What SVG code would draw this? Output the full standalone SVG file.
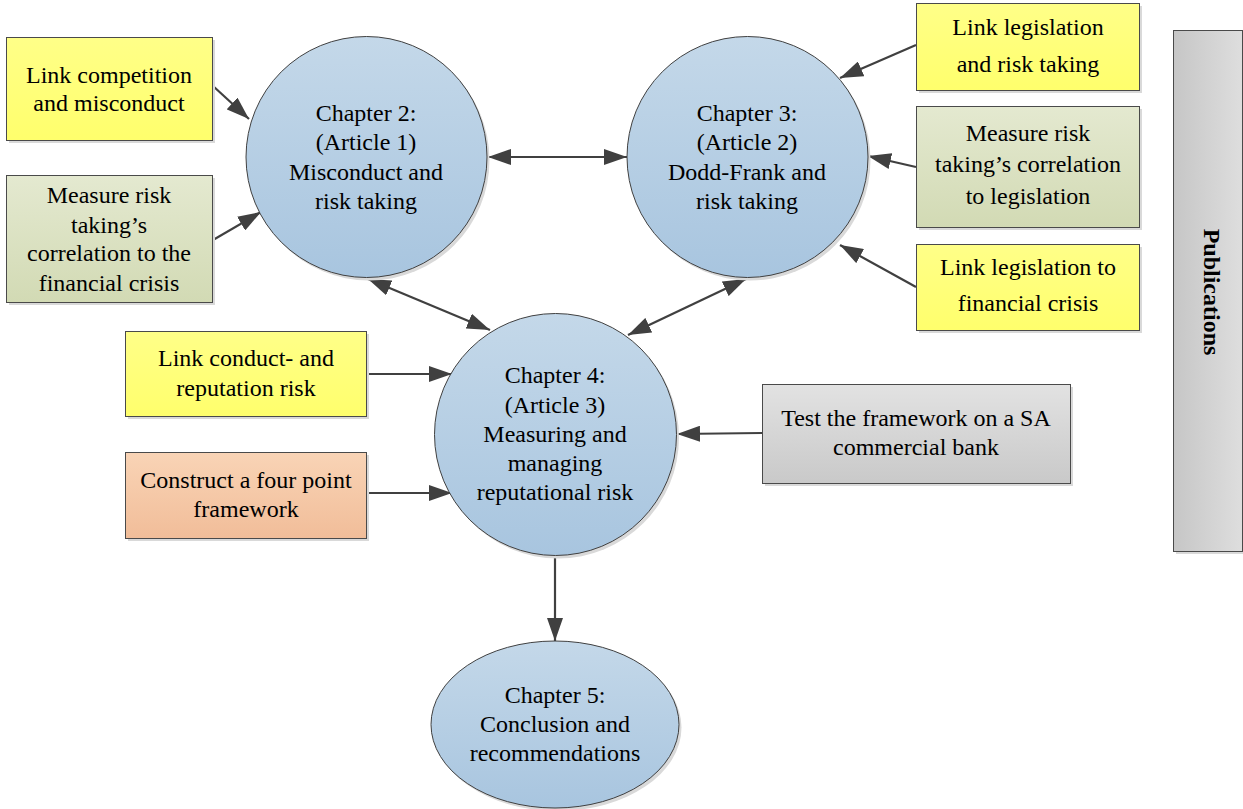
<svg xmlns="http://www.w3.org/2000/svg" width="1243" height="809" viewBox="0 0 1243 809">
<style>
text{font-family:"Liberation Serif","Times New Roman",serif;font-size:24px;fill:#000;text-anchor:middle}
.box{stroke:#4a4a4a;stroke-width:1}
.sh{fill:#d9d9d9}
.circ{fill:url(#gBlue);stroke:#404040;stroke-width:1}
.con{stroke:#404040;stroke-width:2.2;fill:none}
</style>
<defs>
<linearGradient id="gBlue" x1="0" y1="0" x2="0" y2="1"><stop offset="0" stop-color="#c4d8e9"/><stop offset="1" stop-color="#a8c5df"/></linearGradient>
<linearGradient id="gYel" x1="0" y1="0" x2="0" y2="1"><stop offset="0" stop-color="#ffff88"/><stop offset="1" stop-color="#ffff6c"/></linearGradient>
<linearGradient id="gGrn" x1="0" y1="0" x2="0" y2="1"><stop offset="0" stop-color="#e4e9d0"/><stop offset="1" stop-color="#d2dab4"/></linearGradient>
<linearGradient id="gOrg" x1="0" y1="0" x2="0" y2="1"><stop offset="0" stop-color="#f9d4b6"/><stop offset="1" stop-color="#f1bd99"/></linearGradient>
<linearGradient id="gGry" x1="0" y1="0" x2="0" y2="1"><stop offset="0" stop-color="#e2e2e2"/><stop offset="1" stop-color="#c9c9c9"/></linearGradient>
<linearGradient id="gPub" x1="0" y1="0" x2="1" y2="0"><stop offset="0" stop-color="#c6c6c6"/><stop offset="1" stop-color="#dedede"/></linearGradient>
<marker id="ah" viewBox="0 0 23 16" refX="23" refY="8" markerWidth="23" markerHeight="16" markerUnits="userSpaceOnUse" orient="auto-start-reverse"><path d="M0,0 L23,8 L0,16 Z" fill="#404040"/></marker>
</defs>

<g id="connectors">
<line class="con" x1="213" y1="86" x2="249" y2="119" marker-end="url(#ah)"/>
<line class="con" x1="213" y1="240" x2="261" y2="212" marker-end="url(#ah)"/>
<line class="con" x1="488" y1="157" x2="627" y2="157" marker-start="url(#ah)" marker-end="url(#ah)"/>
<line class="con" x1="368" y1="279" x2="490" y2="330" marker-start="url(#ah)" marker-end="url(#ah)"/>
<line class="con" x1="746" y1="279" x2="628" y2="335" marker-start="url(#ah)" marker-end="url(#ah)"/>
<line class="con" x1="916" y1="45" x2="840" y2="78" marker-end="url(#ah)"/>
<line class="con" x1="916" y1="167" x2="868" y2="156" marker-end="url(#ah)"/>
<line class="con" x1="916" y1="287" x2="840" y2="245" marker-end="url(#ah)"/>
<line class="con" x1="366" y1="374" x2="452" y2="374" marker-end="url(#ah)"/>
<line class="con" x1="366" y1="493" x2="452" y2="493" marker-end="url(#ah)"/>
<line class="con" x1="762" y1="433" x2="677" y2="434" marker-end="url(#ah)"/>
<line class="con" x1="555" y1="556" x2="555" y2="641" marker-end="url(#ah)"/>
</g>

<g id="ch2">
<circle cx="369" cy="160" r="120.5" class="sh"/>
<circle cx="366.5" cy="157" r="120.5" class="circ"/>
<text x="366" y="121">Chapter 2:</text>
<text x="366" y="150">(Article 1)</text>
<text x="366" y="180">Misconduct and</text>
<text x="366" y="209">risk taking</text>
</g>

<g id="ch3">
<circle cx="750" cy="160" r="120.5" class="sh"/>
<circle cx="747.5" cy="157" r="120.5" class="circ"/>
<text x="747" y="121">Chapter 3:</text>
<text x="747" y="150">(Article 2)</text>
<text x="747" y="180">Dodd-Frank and</text>
<text x="747" y="209">risk taking</text>
</g>

<g id="ch4">
<circle cx="558" cy="437.5" r="121" class="sh"/>
<circle cx="555.5" cy="434.5" r="121" class="circ"/>
<text x="555" y="383">Chapter 4:</text>
<text x="555" y="413">(Article 3)</text>
<text x="555" y="442">Measuring and</text>
<text x="555" y="471">managing</text>
<text x="555" y="500">reputational risk</text>
</g>

<g id="ch5">
<ellipse cx="557.5" cy="727.5" rx="124" ry="83.5" class="sh"/>
<ellipse cx="555" cy="724.5" rx="124" ry="83.5" class="circ"/>
<text x="555" y="703">Chapter 5:</text>
<text x="555" y="732">Conclusion and</text>
<text x="555" y="761">recommendations</text>
</g>

<g id="linkComp">
<rect x="9" y="40" width="206" height="103" class="sh"/>
<rect x="6.5" y="37.5" width="206" height="103" class="box" fill="url(#gYel)"/>
<text x="109" y="83">Link competition</text>
<text x="109" y="111">and misconduct</text>
</g>

<g id="measureLeft">
<rect x="9" y="178" width="206" height="127" class="sh"/>
<rect x="6.5" y="175.5" width="206" height="127" class="box" fill="url(#gGrn)"/>
<text x="109" y="203">Measure risk</text>
<text x="109" y="233">taking’s</text>
<text x="109" y="261">correlation to the</text>
<text x="109" y="291">financial crisis</text>
</g>

<g id="linkLeg">
<rect x="919" y="6" width="223" height="87" class="sh"/>
<rect x="916.5" y="3.5" width="223" height="87" class="box" fill="url(#gYel)"/>
<text x="1028" y="35">Link legislation</text>
<text x="1028" y="72">and risk taking</text>
</g>

<g id="measureRight">
<rect x="919" y="109" width="223" height="121" class="sh"/>
<rect x="916.5" y="106.5" width="223" height="121" class="box" fill="url(#gGrn)"/>
<text x="1028" y="141">Measure risk</text>
<text x="1028" y="172">taking’s correlation</text>
<text x="1028" y="204">to legislation</text>
</g>

<g id="linkLegCrisis">
<rect x="919" y="247" width="223" height="86" class="sh"/>
<rect x="916.5" y="244.5" width="223" height="86" class="box" fill="url(#gYel)"/>
<text x="1028" y="275">Link legislation to</text>
<text x="1028" y="311">financial crisis</text>
</g>

<g id="linkConduct">
<rect x="128" y="334" width="241" height="85" class="sh"/>
<rect x="125.5" y="331.5" width="241" height="85" class="box" fill="url(#gYel)"/>
<text x="246" y="366">Link conduct- and</text>
<text x="246" y="396">reputation risk</text>
</g>

<g id="construct">
<rect x="128" y="455" width="241" height="86" class="sh"/>
<rect x="125.5" y="452.5" width="241" height="86" class="box" fill="url(#gOrg)"/>
<text x="246" y="488">Construct a four point</text>
<text x="246" y="517">framework</text>
</g>

<g id="test">
<rect x="765" y="387" width="308" height="99" class="sh"/>
<rect x="762.5" y="384.5" width="308" height="99" class="box" fill="url(#gGry)"/>
<text x="916" y="426">Test the framework on a SA</text>
<text x="916" y="455">commercial bank</text>
</g>

<g id="publications">
<rect x="1176" y="33" width="69" height="521" class="sh"/>
<rect x="1173.5" y="30.5" width="69" height="521" class="box" fill="url(#gPub)"/>
<text x="0" y="0" transform="translate(1204,292) rotate(90)" style="font-weight:bold">Publications</text>
</g>
</svg>
